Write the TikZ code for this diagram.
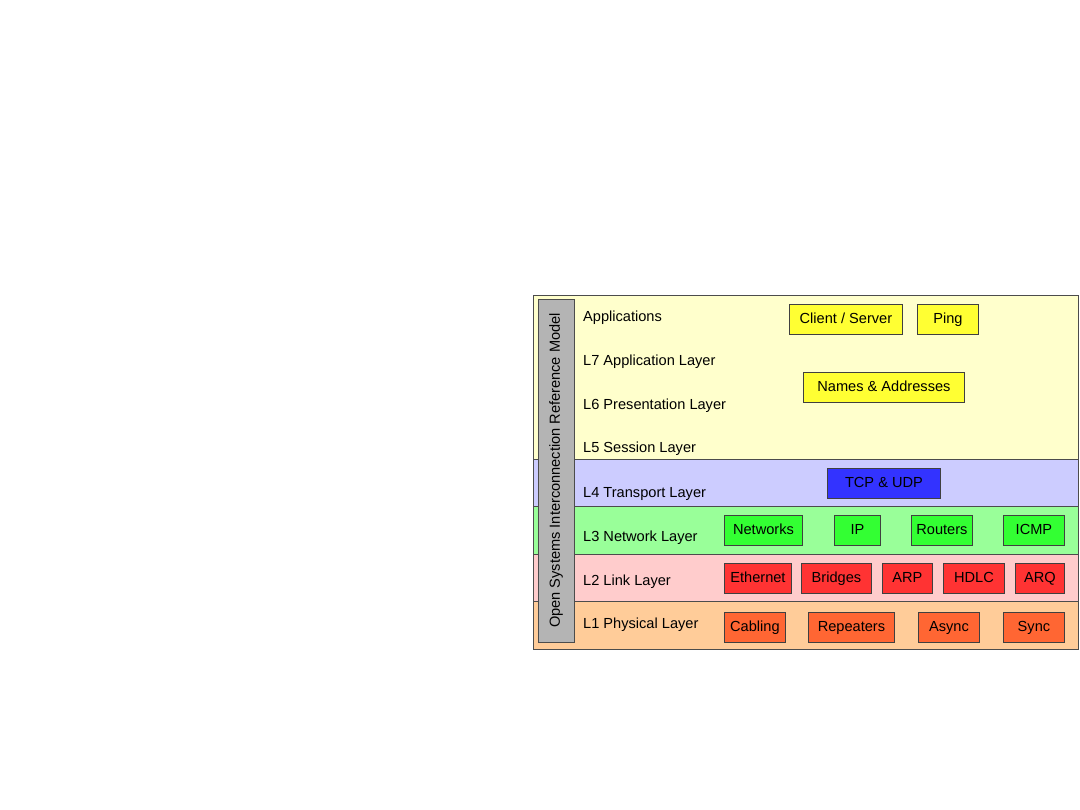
\documentclass[tikz,border=0pt]{standalone}
\usepackage{fontspec}
\setmainfont{Liberation Sans}
\usetikzlibrary{positioning}
\definecolor{appband}{HTML}{FFFFCC}
\definecolor{transband}{HTML}{CCCCFF}
\definecolor{netband}{HTML}{99FF99}
\definecolor{linkband}{HTML}{FFCCCC}
\definecolor{physband}{HTML}{FFCC99}
\definecolor{appbox}{HTML}{FFFF33}
\definecolor{transbox}{HTML}{3333FF}
\definecolor{netbox}{HTML}{33FF33}
\definecolor{linkbox}{HTML}{FF3333}
\definecolor{physbox}{HTML}{FF6633}
\definecolor{osigray}{HTML}{B4B4B4}

\begin{document}
\begin{tikzpicture}[x=1pt, y=-1pt]
    \tikzset{band/.style={draw=black!70, line width=0.9pt, inner sep=0pt, minimum width=545pt, anchor=north west},
        item/.style={draw=black!75, line width=0.9pt, inner sep=0pt, minimum height=30pt, text height=10.5pt, text depth=3pt, anchor=north west, font=\fontsize{14.6}{17}\selectfont},
        layer/.style={anchor=base west, inner sep=0pt, font=\fontsize{14.6}{17}\selectfont}
    }
    \useasboundingbox (0,0) rectangle (1080,810);

    % layer bands
    \foreach \n / \t / \h / \c in {App/295/164/appband, Trans/459/47/transband, Net/506/48/netband, Link/554/47/linkband, Phys/601/48/physband} {
        \node (\n) [band, fill=\c, minimum height=\h pt] at (533, \t) {};
    }

    % model bar
    \node (OSI) [draw=black!70, line width=0.9pt, fill=osigray, rotate=90, inner sep=0pt, minimum width=343pt, minimum height=36pt, font=\fontsize{14.6}{17}\selectfont] at (556, 470.5) {Open Systems Interconnection Reference Model};

    % layer names
    \foreach \n / \y / \t in {Apps/322/Applications, L7/366/L7 Application Layer, L6/410/L6 Presentation Layer, L5/453/L5 Session Layer, L4/497/L4 Transport Layer, L3/541/L3 Network Layer, L2/585/L2 Link Layer, L1/628/L1 Physical Layer} {
        \node (\n) [layer] at (583, \y) {\t};
    }

    % protocol boxes
    \foreach \n / \x / \y / \w / \c / \t in {
        Client/789/304/113/appbox/{Client / Server},
        Ping/917/304/61/appbox/Ping,
        Names/803/372/161/appbox/Names \& Addresses,
        TCP/827/468/113/transbox/TCP \& UDP,
        Networks/724/515/78/netbox/Networks,
        IP/834/515/46/netbox/IP,
        Routers/911/515/61/netbox/Routers,
        ICMP/1003/515/61/netbox/ICMP,
        Ethernet/724/563/67/linkbox/Ethernet,
        Bridges/801/563/70/linkbox/Bridges,
        ARP/882/563/50/linkbox/ARP,
        HDLC/943/563/61/linkbox/HDLC,
        ARQ/1015/563/49/linkbox/ARQ,
        Cabling/724/612/61/physbox/Cabling,
        Repeaters/808/612/86/physbox/Repeaters,
        Async/918/612/61/physbox/Async,
        Sync/1003/612/61/physbox/Sync} {
        \node (\n) [item, fill=\c, minimum width=\w pt] at (\x, \y) {\t};
    }
\end{tikzpicture}
\end{document}
